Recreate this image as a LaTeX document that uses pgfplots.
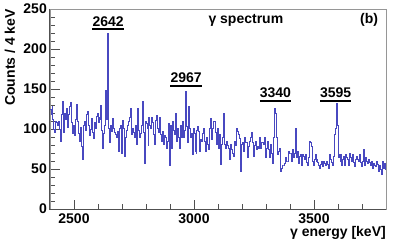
\documentclass[border=0pt]{standalone}
\usepackage{fontspec}
\setmainfont{Liberation Sans}
\usepackage{pgfplots}
\pgfplotsset{compat=1.18}
\usepackage{pgfplotstable}
\definecolor{histblue}{RGB}{72,72,192}
\definecolor{framegray}{RGB}{150,150,150}
\definecolor{axisdark}{RGB}{80,80,80}
\newcommand{\lbl}{\fontsize{14bp}{16bp}\selectfont\bfseries}

\pgfplotstableread{
c
124
118
128
112
100
96
110
108
104
110
100
85
118
135
96
120
112
126
102
118
128
133
108
95
104
92
112
122
131
110
95
84
102
78
62
105
110
98
118
122
104
92
100
113
96
88
108
101
116
120
108
115
112
130
98
76
94
105
148
112
220
101
83
104
97
113
101
96
93
89
97
72
101
105
70
111
101
94
66
89
98
105
109
115
126
93
101
96
89
105
81
126
98
89
95
105
134
96
57
109
107
101
79
115
104
101
115
108
93
81
111
117
101
96
115
93
85
97
81
92
89
76
85
107
54
105
76
89
109
98
93
120
85
101
90
76
105
89
109
89
98
147
103
83
128
101
89
95
68
101
95
72
70
98
103
97
72
87
85
95
101
85
72
89
81
74
101
113
87
101
110
109
96
81
101
76
93
84
56
81
89
119
81
76
85
79
76
62
81
74
70
66
85
79
101
97
93
88
47
81
83
72
72
89
83
83
64
78
85
89
96
83
66
80
85
74
78
76
89
76
83
83
81
89
64
76
85
79
74
64
81
70
57
89
126
120
89
68
72
76
47
51
55
55
57
64
60
60
72
70
70
60
62
74
64
70
101
64
72
57
66
68
55
68
66
62
68
58
55
64
85
83
78
60
55
62
68
60
62
58
55
51
56
60
53
60
57
55
60
56
51
68
62
58
55
66
93
101
132
105
64
68
60
68
55
62
66
55
68
64
62
55
70
64
60
68
58
53
62
66
62
60
68
58
53
60
74
58
55
64
60
57
62
58
55
60
51
57
55
53
60
56
47
55
50
43
60
51
57
49
49
}\spectrum

\begin{document}
\begin{tikzpicture}
\useasboundingbox (-50bp,-38bp) rectangle (365bp,209bp);
\begin{axis}[
  at={(0,0)}, anchor=south west,
  width=336bp, height=200bp, scale only axis,
  xmin=2400, xmax=3800, ymin=0, ymax=250,
  xtick={2500,3000,3500}, minor xtick={2400,2500,...,3800},
  ytick={0,50,...,250}, minor ytick={0,10,...,250},
  tick pos=left, tick align=inside,
  major tick length=9.5bp, minor tick length=5bp,
  tick style={axisdark, line width=0.8bp},
  axis line style={framegray, line width=0.9bp},
  /pgf/number format/assume math mode=true,
  /pgf/number format/1000 sep={},
  ticklabel style={font=\lbl},
  yticklabel style={inner sep=0pt, xshift=-3bp},
  xticklabel style={inner sep=0pt, yshift=-4.5bp},
  xlabel={γ energy [keV]}, ylabel={Counts / 4 keV},
  label style={font=\lbl},
  xlabel style={at={(axis description cs:1,-0.1385)}, anchor=base east, inner sep=0pt},
  ylabel style={at={(axis description cs:-0.119,1)}, anchor=east, inner sep=0pt},
  clip=false,
]
\addplot[const plot, color=histblue, line width=0.8bp] table[x expr=2400+4*\coordindex, y=c] {\spectrum};
\draw[axisdark, line width=1bp] (rel axis cs:0,1) -- (rel axis cs:0,0) -- (rel axis cs:1,0);
\node[font=\lbl, anchor=base] at (axis cs:2642,228.75) {2642};
\draw[line width=1.3bp] (axis cs:2577,225) -- (axis cs:2707,225);
\node[font=\lbl, anchor=base] at (axis cs:2967,157.9) {2967};
\draw[line width=1.3bp] (axis cs:2902,153.75) -- (axis cs:3032,153.75);
\node[font=\lbl, anchor=base] at (axis cs:3339,139.6) {3340};
\draw[line width=1.3bp] (axis cs:3274,135) -- (axis cs:3404,135);
\node[font=\lbl, anchor=base] at (axis cs:3590,139.6) {3595};
\draw[line width=1.3bp] (axis cs:3525,135) -- (axis cs:3655,135);
\node[font=\lbl, anchor=base] at (axis description cs:0.583,0.925) {γ spectrum};
\node[font=\lbl, anchor=base east, inner sep=0pt] at (axis description cs:0.977,0.925) {(b)};
\end{axis}
\end{tikzpicture}
\end{document}
